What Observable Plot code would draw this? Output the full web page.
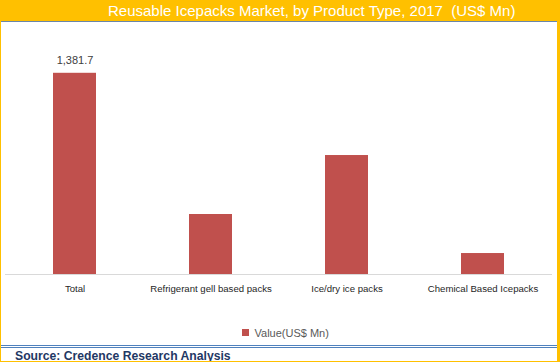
<!DOCTYPE html>
<html>
<head>
<meta charset="utf-8">
<script src="https://cdn.jsdelivr.net/npm/d3@7"></script>
<script src="https://cdn.jsdelivr.net/npm/@observablehq/plot@0.6"></script>
<style>
  html, body { margin: 0; padding: 0; background: #fff; }
  #frame {
    position: relative; width: 560px; height: 362px; box-sizing: border-box;
    border-left: 1px solid #FFC000; border-right: 3px solid #FFC000; border-bottom: 1px solid #FFC000;
    background: #fff; overflow: hidden; font-family: "Liberation Sans", Arial, sans-serif;
  }
  #titlebar {
    position: absolute; left: -1px; top: 0; width: 560px; height: 21px;
    background: #FFC000; border-bottom: 1px solid #6A86A8;
  }
  #title {
    position: absolute; left: 108px; top: 2px; color: #fff; font-size: 15px;
    white-space: pre; line-height: 17px;
  }
  #chart { position: absolute; left: 0; top: 22px; }
  #legend { position: absolute; left: 241px; top: 316px; }
  #rule {
    position: absolute; left: 0; top: 345px; width: 556px; height: 1px;
    border-top: 1px solid #4F81BD; border-bottom: 1px solid #4F81BD;
  }
  #source {
    position: absolute; left: 14px; top: 349px; font-size: 12.2px; font-weight: bold;
    color: #1F3864; white-space: pre;
  }
</style>
</head>
<body>
<div id="frame">
  <div id="titlebar"><div id="title"></div></div>
  <div id="chart"></div>
  <div id="legend"></div>
  <div id="rule"></div>
  <div id="source"></div>
</div>
<script>
const titleText = "Reusable Icepacks Market, by Product Type, 2017  (US$ Mn)";
const sourceText = "Source: Credence Research Analysis";
const seriesName = "Value(US$ Mn)";
const categories = ["Total", "Refrigerant gell based packs", "Ice/dry ice packs", "Chemical Based Icepacks"];
const values = [1381.7, 412, 817, 144];
const valueLabels = ["1,381.7", "", "", ""];
const barColor = "#C0504D";

const data = categories.map((c, i) => ({category: c, value: values[i], label: valueLabels[i]}));

document.getElementById("title").textContent = titleText;
document.getElementById("source").textContent = sourceText;

const chart = Plot.plot({
  width: 556,
  height: 322,
  marginLeft: 4,
  marginRight: 5,
  marginTop: 19,
  marginBottom: 70,
  style: {fontFamily: "Liberation Sans, Arial, sans-serif", background: "#fff"},
  x: {domain: categories, paddingInner: 0.685, paddingOuter: 0.3425, label: null},
  y: {domain: [0, 1600], axis: null},
  marks: [
    Plot.barY(data, {x: "category", y: "value", fill: barColor}),
    Plot.ruleY([0], {stroke: "#D9D9D9", strokeWidth: 1}),
    Plot.text(data.filter(d => d.label), {x: "category", y: "value", text: "label", lineAnchor: "bottom", dy: -9, fontSize: 11, fill: "#404040"}),
    Plot.axisX({tickSize: 0, tickPadding: 11, fontSize: 9.6, fill: "#262626", label: null})
  ]
});
document.getElementById("chart").appendChild(chart);

const legend = Plot.legend({
  color: {domain: [seriesName], range: [barColor]},
  swatchSize: 7,
  style: {fontFamily: "Liberation Sans, Arial, sans-serif", fontSize: "11px", color: "#595959", margin: 0}
});
document.getElementById("legend").appendChild(legend);
</script>
</body>
</html>
